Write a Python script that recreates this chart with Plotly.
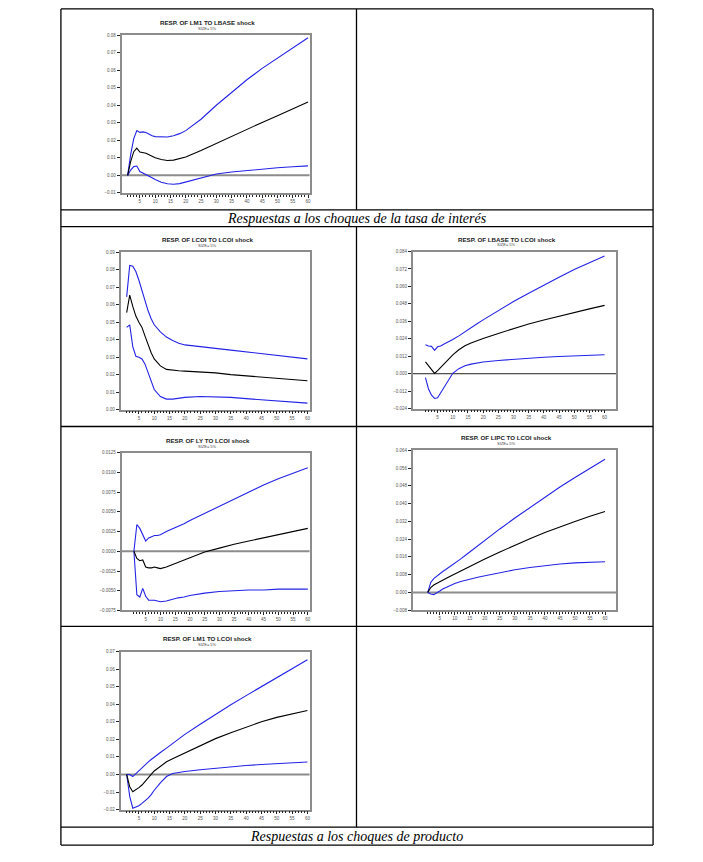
import plotly.graph_objects as go

# -----------------------------
# Page / table geometry (pixels)
# -----------------------------
W, H = 703, 862

# -----------------------------
# Data
# -----------------------------
periods = [1, 2, 3, 4, 5, 6, 7, 8, 9, 10, 12, 14, 16, 18, 20, 25, 30, 35, 40, 45, 50, 55, 60]
xtick_vals = [5, 10, 15, 20, 25, 30, 35, 40, 45, 50, 55, 60]

subtitle = "SIZE= 5%"
caption_rate = "Respuestas a los choques de la tasa de interés"
caption_output = "Respuestas a los choques de producto"

# RESP. OF LM1 TO LBASE shock
lm1_lbase_hi = [0.000, 0.012, 0.021, 0.0255, 0.0245, 0.0248, 0.0245, 0.0235, 0.0226, 0.0221, 0.0218, 0.0219,
                0.0226, 0.0238, 0.0255, 0.032, 0.040, 0.0475, 0.0545, 0.061, 0.067, 0.073, 0.0785]
lm1_lbase_mid = [0.000, 0.008, 0.0135, 0.0155, 0.0133, 0.0130, 0.0126, 0.0118, 0.0108, 0.0100, 0.0090, 0.0085,
                 0.0087, 0.0094, 0.0105, 0.0142, 0.0183, 0.0223, 0.0263, 0.0302, 0.0340, 0.0378, 0.0418]
lm1_lbase_lo = [0.000, 0.003, 0.005, 0.0053, 0.0022, 0.0014, 0.0006, -0.0004, -0.0014, -0.0024, -0.0039, -0.0048,
                -0.0051, -0.0047, -0.0038, -0.0012, 0.0008, 0.0019, 0.0028, 0.0036, 0.0043, 0.0049, 0.0054]

# RESP. OF LCOI TO LCOI shock
lcoi_lcoi_hi = [0.0645, 0.0825, 0.082, 0.079, 0.074, 0.068, 0.062, 0.0565, 0.052, 0.0485, 0.0445, 0.0415,
                0.0395, 0.038, 0.037, 0.0358, 0.035, 0.034, 0.033, 0.032, 0.031, 0.030, 0.029]
lcoi_lcoi_mid = [0.0555, 0.0655, 0.059, 0.0535, 0.050, 0.047, 0.042, 0.037, 0.0325, 0.029, 0.025, 0.023,
                 0.0225, 0.0222, 0.022, 0.0215, 0.021, 0.020, 0.0193, 0.0185, 0.0178, 0.0172, 0.0165]
lcoi_lcoi_lo = [0.047, 0.0485, 0.036, 0.0305, 0.030, 0.029, 0.026, 0.021, 0.016, 0.0115, 0.0075, 0.006,
                0.006, 0.0065, 0.007, 0.0075, 0.0074, 0.007, 0.0063, 0.0056, 0.005, 0.0043, 0.0037]

# RESP. OF LBASE TO LCOI shock
lbase_lcoi_hi = [0.020, 0.019, 0.0188, 0.016, 0.0185, 0.019, 0.0202, 0.0212, 0.0223, 0.0235, 0.026, 0.029,
                 0.032, 0.0344, 0.037, 0.0435, 0.0496, 0.0553, 0.061, 0.0663, 0.0717, 0.0765, 0.081]
lbase_lcoi_mid = [0.0082, 0.0055, 0.0032, 0.0002, 0.0022, 0.0045, 0.0068, 0.009, 0.011, 0.013, 0.0165, 0.0192,
                  0.0212, 0.0228, 0.0242, 0.0277, 0.031, 0.0342, 0.0369, 0.0396, 0.0421, 0.0446, 0.047]
lbase_lcoi_lo = [-0.0027, -0.0105, -0.0148, -0.017, -0.0165, -0.013, -0.0095, -0.006, -0.0025, 0.0003, 0.0035,
                 0.0055, 0.0066, 0.0075, 0.0081, 0.0091, 0.0100, 0.0107, 0.0113, 0.0118, 0.0123, 0.0127, 0.013]

# RESP. OF LY TO LCOI shock
ly_lcoi_hi = [0.0, 0.0034, 0.0029, 0.0022, 0.0013, 0.0017, 0.0019, 0.002, 0.002, 0.0021, 0.0025, 0.0028,
              0.0032, 0.0035, 0.0039, 0.0048, 0.0058, 0.0067, 0.0076, 0.0084, 0.0092, 0.0099, 0.0106]
ly_lcoi_mid = [0.0, -0.0009, -0.0012, -0.0011, -0.0020, -0.0021, -0.0021, -0.0020, -0.0021, -0.0022, -0.0020,
               -0.0017, -0.0014, -0.0011, -0.0008, -0.0001, 0.0004, 0.0009, 0.0013, 0.0017, 0.0021, 0.0025, 0.0029]
ly_lcoi_lo = [0.0, -0.0055, -0.0058, -0.0047, -0.0057, -0.0062, -0.0062, -0.0062, -0.0063, -0.0064, -0.0063,
              -0.0061, -0.0059, -0.0058, -0.0056, -0.0053, -0.0051, -0.0050, -0.0049, -0.0049, -0.0048, -0.0048, -0.0048]

# RESP. OF LIPC TO LCOI shock
lipc_lcoi_hi = [0.0, 0.0045, 0.0062, 0.0074, 0.0085, 0.0094, 0.0103, 0.0112, 0.0121, 0.013, 0.0151, 0.0172,
                0.0193, 0.0214, 0.0235, 0.0286, 0.0335, 0.0383, 0.043, 0.0475, 0.0518, 0.056, 0.060]
lipc_lcoi_mid = [0.0, 0.0022, 0.0033, 0.0041, 0.0048, 0.0055, 0.0062, 0.0069, 0.0076, 0.0082, 0.0096, 0.011,
                 0.0124, 0.0137, 0.015, 0.0182, 0.0213, 0.0242, 0.027, 0.0296, 0.032, 0.0343, 0.0365]
lipc_lcoi_lo = [0.0, -0.0007, -0.001, -0.0003, 0.0006, 0.0015, 0.0022, 0.0029, 0.0035, 0.004, 0.0049, 0.0057,
                0.0063, 0.0069, 0.0075, 0.009, 0.0102, 0.0112, 0.0121, 0.0128, 0.0133, 0.0136, 0.0138]

# RESP. OF LM1 TO LCOI shock
lm1_lcoi_hi = [0.0, 0.0, -0.0012, 0.0005, 0.0025, 0.004, 0.0055, 0.007, 0.0085, 0.010, 0.0125, 0.015,
               0.0176, 0.0202, 0.0228, 0.0286, 0.0343, 0.0397, 0.0449, 0.050, 0.0549, 0.060, 0.0653]
lm1_lcoi_mid = [0.0, -0.007, -0.0098, -0.0088, -0.0075, -0.006, -0.0042, -0.0022, 0.0, 0.002, 0.0048, 0.0072,
                0.009, 0.0107, 0.0123, 0.0165, 0.0204, 0.0238, 0.027, 0.030, 0.0325, 0.0346, 0.0364]
lm1_lcoi_lo = [0.0, -0.0125, -0.0192, -0.0185, -0.0178, -0.0165, -0.0152, -0.0135, -0.0115, -0.009, -0.0048,
               -0.0012, 0.0005, 0.0012, 0.0017, 0.0027, 0.0036, 0.0044, 0.0051, 0.0057, 0.0062, 0.0066, 0.0071]

# -----------------------------
# Panel setup
# -----------------------------
BLUE = "#2323e6"
FRAME = "#8c8c8c"

panels = [
    dict(title="RESP. OF LM1 TO LBASE shock", data=(lm1_lbase_hi, lm1_lbase_mid, lm1_lbase_lo),
         box=(121.7, 33.3, 310, 192), xr=(-1, 60.5), yr=(-0.01, 0.08), dy=0.01, fmt=".2f", zero="gray"),
    dict(title="RESP. OF LCOI TO LCOI shock", data=(lcoi_lcoi_hi, lcoi_lcoi_mid, lcoi_lcoi_lo),
         box=(120.7, 251.7, 310, 410), xr=(-1, 60.7), yr=(0.0, 0.09), dy=0.01, fmt=".2f", zero=None),
    dict(title="RESP. OF LBASE TO LCOI shock", data=(lbase_lcoi_hi, lbase_lcoi_mid, lbase_lcoi_lo),
         box=(413.3, 251, 617.3, 409), xr=(-3.2, 63.9), yr=(-0.024, 0.084), dy=0.012, fmt=".3f", zero="black"),
    dict(title="RESP. OF LY TO LCOI shock", data=(ly_lcoi_hi, ly_lcoi_mid, ly_lcoi_lo),
         box=(121.7, 453.3, 310, 612), xr=(-3.2, 60.6), yr=(-0.0075, 0.0125), dy=0.0025, fmt=".4f", zero="gray"),
    dict(title="RESP. OF LIPC TO LCOI shock", data=(lipc_lcoi_hi, lipc_lcoi_mid, lipc_lcoi_lo),
         box=(413.3, 451, 617.3, 611.7), xr=(-4, 63.8), yr=(-0.008, 0.064), dy=0.008, fmt=".3f", zero="gray"),
    dict(title="RESP. OF LM1 TO LCOI shock", data=(lm1_lcoi_hi, lm1_lcoi_mid, lm1_lcoi_lo),
         box=(120.7, 653.3, 310, 812.3), xr=(-1, 60.7), yr=(-0.02, 0.07), dy=0.01, fmt=".2f", zero="gray"),
]


def fx(px):
    return px / W


def fy(py):
    return 1 - py / H


fig = go.Figure()
annotations = []
shapes = []

for i, p in enumerate(panels, start=1):
    ax = "" if i == 1 else str(i)
    x0, y0, x1, y1 = p["box"]
    hi, mid, lo = p["data"]
    for ys, col in ((hi, BLUE), (lo, BLUE), (mid, "black")):
        fig.add_trace(go.Scatter(x=periods, y=ys, mode="lines", line=dict(color=col, width=1.1),
                                 showlegend=False, hoverinfo="skip", xaxis="x" + ax, yaxis="y" + ax))

    n = int(round((p["yr"][1] - p["yr"][0]) / p["dy"]))
    yticks = [round(p["yr"][0] + k * p["dy"], 6) for k in range(n + 1)]

    fig.layout["xaxis" + ax] = dict(
        domain=[fx(x0), fx(x1)], range=list(p["xr"]), anchor="y" + ax,
        showline=True, mirror=True, linecolor=FRAME, linewidth=1.5,
        showgrid=False, zeroline=False,
        ticks="outside", tickvals=xtick_vals, ticklen=3, tickwidth=1, tickcolor="#222",
        tickfont=dict(size=4.5, color="#555", family="Liberation Sans"),
        minor=dict(tickvals=list(range(1, 61)), ticks="outside", ticklen=2, tickwidth=0.8, tickcolor="#222"),
    )
    fig.layout["yaxis" + ax] = dict(
        domain=[fy(y1), fy(y0)], range=list(p["yr"]), anchor="x" + ax,
        showline=True, mirror=True, linecolor=FRAME, linewidth=1.5,
        showgrid=False, zeroline=False,
        ticks="outside", tickvals=yticks, tickformat=p["fmt"], ticklen=3, tickwidth=1, tickcolor="#222",
        tickfont=dict(size=4.5, color="#555", family="Liberation Sans"),
    )

    # zero reference line
    if p["zero"] is not None:
        shapes.append(dict(type="line", xref="x" + ax + " domain", x0=0, x1=1, yref="y" + ax, y0=0, y1=0,
                           layer="below",
                           line=dict(color="#8c8c8c" if p["zero"] == "gray" else "#222",
                                     width=2 if p["zero"] == "gray" else 1)))

    cx = (x0 + x1) / 2 - 8
    annotations.append(dict(text="<b>" + p["title"] + "</b>", x=fx(cx), y=fy(y0 - 12.6),
                            xref="paper", yref="paper", showarrow=False, xanchor="center", yanchor="middle",
                            font=dict(size=6.2, color="#222", family="Liberation Sans")))
    annotations.append(dict(text=subtitle, x=fx(cx), y=fy(y0 - 6.6),
                            xref="paper", yref="paper", showarrow=False, xanchor="center", yanchor="middle",
                            font=dict(size=4.0, color="#444", family="Liberation Sans")))

# Captions
for txt, ypx in ((caption_rate, 217.8), (caption_output, 839.2)):
    annotations.append(dict(text="<i>" + txt + "</i>", x=fx(357.5), y=fy(ypx),
                            xref="paper", yref="paper", showarrow=False, xanchor="center", yanchor="middle",
                            font=dict(size=14, color="black", family="Liberation Serif")))

# -----------------------------
# Table lines
# -----------------------------
L, R, MIDX = 61, 654, 357
rows = [7, 209, 226, 427, 628, 830, 848]
for yy in rows:
    shapes.append(dict(type="line", xref="paper", yref="paper", x0=fx(L), x1=fx(R), y0=fy(yy), y1=fy(yy),
                       line=dict(color="black", width=1.3)))
for xx in (L, R):
    shapes.append(dict(type="line", xref="paper", yref="paper", x0=fx(xx), x1=fx(xx), y0=fy(7), y1=fy(848),
                       line=dict(color="black", width=1.3)))
for ya, yb in ((7, 209), (226, 830)):
    shapes.append(dict(type="line", xref="paper", yref="paper", x0=fx(MIDX), x1=fx(MIDX), y0=fy(ya), y1=fy(yb),
                       line=dict(color="black", width=1.3)))

fig.update_layout(
    width=W, height=H, autosize=False,
    margin=dict(l=0, r=0, t=0, b=0),
    paper_bgcolor="white", plot_bgcolor="white",
    annotations=annotations, shapes=shapes,
)

# page body has a default 8px margin; remove it so the figure sits at the window origin
fig.write_html("out.html", config={"displayModeBar": False},
               post_script="document.body.style.margin='0px';")
